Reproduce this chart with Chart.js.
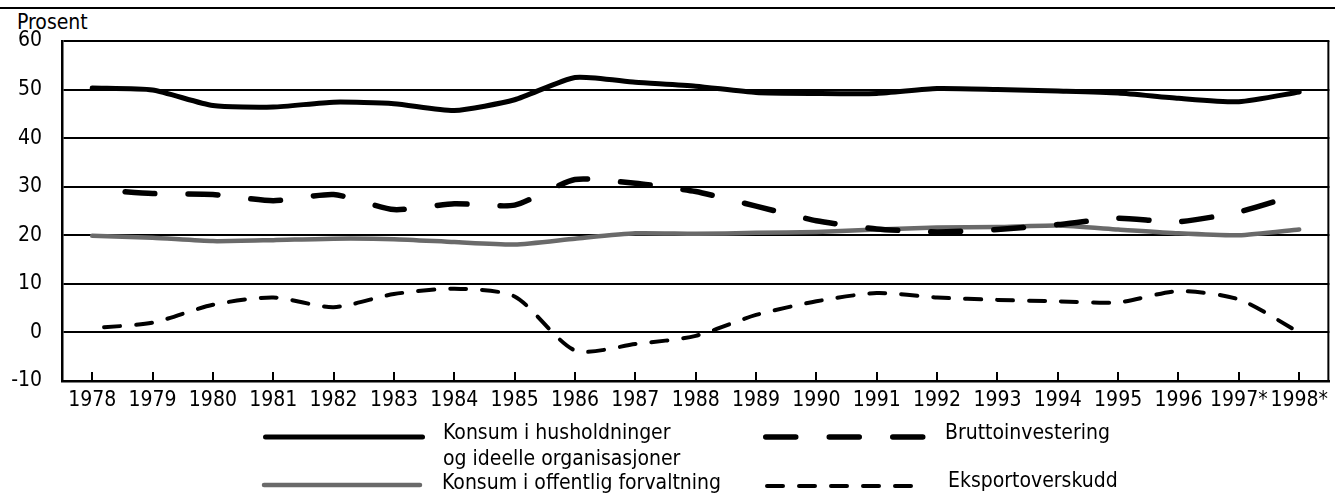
<!DOCTYPE html>
<html>
<head>
<meta charset="utf-8">
<script src="https://cdn.jsdelivr.net/npm/chart.js@4.4.1/dist/chart.umd.min.js"></script>
<style>
  html, body { margin: 0; padding: 0; background: #fff; }
  body { width: 1335px; height: 494px; position: relative; overflow: hidden;
         font-family: "DejaVu Sans Condensed", "DejaVu Sans", sans-serif; color: #000; }
  #wrap { position: absolute; left: 0; top: 0; width: 1335px; height: 420px; }
  .txt { position: absolute; font-size: 21px; line-height: 24px; white-space: nowrap; }
  #rule { position: absolute; left: 0; top: 7px; width: 1335px; height: 2px; background: #000; }
  svg { position: absolute; left: 0; top: 0; }
</style>
</head>
<body>
<div id="rule"></div>
<div class="txt" style="left:17px; top:10px;">Prosent</div>
<div id="wrap"><canvas id="c" width="1335" height="420"></canvas></div>

<svg width="1335" height="494">
  <line x1="265.5" y1="437" x2="422.5" y2="437" stroke="#000" stroke-width="5" stroke-linecap="round"/>
  <line x1="264" y1="485" x2="420" y2="485" stroke="#6a6a6a" stroke-width="4.5" stroke-linecap="round"/>
  <line x1="765.75" y1="437" x2="922.75" y2="437" stroke="#000" stroke-width="5.5" stroke-linecap="round" stroke-dasharray="30 33.5"/>
  <line x1="767" y1="486" x2="911" y2="486" stroke="#000" stroke-width="4" stroke-linecap="round" stroke-dasharray="16 16"/>
</svg>
<div class="txt" style="left:443px; top:420px;">Konsum i husholdninger</div>
<div class="txt" style="left:443px; top:446px;">og ideelle organisasjoner</div>
<div class="txt" style="left:442px; top:470px;">Konsum i offentlig forvaltning</div>
<div class="txt" style="left:945px; top:420px;">Bruttoinvestering</div>
<div class="txt" style="left:948px; top:468px;">Eksportoverskudd</div>

<script>
const years = ['1978','1979','1980','1981','1982','1983','1984','1985','1986','1987','1988',
               '1989','1990','1991','1992','1993','1994','1995','1996','1997*','1998*'];
const yTicks = [-10, 0, 10, 20, 30, 40, 50, 60];

const konsumHusholdninger = [50.3, 49.9, 46.7, 46.4, 47.4, 47.1, 45.7, 47.9, 52.5, 51.5, 50.7,
                             49.4, 49.2, 49.2, 50.2, 50.0, 49.7, 49.3, 48.2, 47.5, 49.5];
const bruttoinvestering   = [29.5, 28.6, 28.4, 27.1, 28.4, 25.3, 26.5, 26.2, 31.5, 30.7, 29.0,
                             26.0, 23.0, 21.3, 20.7, 21.2, 22.2, 23.5, 22.8, 24.8, 28.5];
const konsumOffentlig     = [19.9, 19.5, 18.8, 19.0, 19.3, 19.2, 18.6, 18.1, 19.3, 20.4, 20.3,
                             20.5, 20.7, 21.2, 21.6, 21.7, 22.0, 21.2, 20.4, 20.0, 21.2];
const eksportoverskudd    = [0.9, 2.0, 5.7, 7.2, 5.2, 7.9, 9.0, 7.4, -3.7, -2.4, -0.7,
                             3.6, 6.4, 8.1, 7.2, 6.7, 6.4, 6.2, 8.5, 6.8, 0.0];

const FONT = "'DejaVu Sans Condensed', 'DejaVu Sans', sans-serif";

const framePlugin = {
  id: 'frame',
  afterDraw(chart) {
    const {ctx, chartArea: a, scales: {x}} = chart;
    ctx.save();
    ctx.strokeStyle = '#000';
    ctx.lineWidth = 2;
    ctx.beginPath();
    ctx.moveTo(a.right - 1, a.top);
    ctx.lineTo(a.right - 1, a.bottom);
    ctx.stroke();
    for (let i = 0; i < years.length; i++) {
      const px = Math.round(x.getPixelForValue(i));
      ctx.beginPath();
      ctx.moveTo(px, a.bottom);
      ctx.lineTo(px, a.bottom - 9);
      ctx.stroke();
    }
    ctx.restore();
  }
};

new Chart(document.getElementById('c'), {
  type: 'line',
  data: {
    labels: years,
    datasets: [
      { label: 'Konsum i husholdninger og ideelle organisasjoner', data: konsumHusholdninger,
        borderColor: '#000', borderWidth: 5, order: 1, tension: 0.2,
        borderCapStyle: 'round', borderJoinStyle: 'round' },
      { label: 'Bruttoinvestering', data: bruttoinvestering,
        borderColor: '#000', borderWidth: 5.5, borderDash: [30, 33], borderDashOffset: 30,
        order: 0, tension: 0.2, borderCapStyle: 'round', borderJoinStyle: 'round' },
      { label: 'Konsum i offentlig forvaltning', data: konsumOffentlig,
        borderColor: '#6a6a6a', borderWidth: 4.5, order: 3, tension: 0.2,
        borderCapStyle: 'round', borderJoinStyle: 'round' },
      { label: 'Eksportoverskudd', data: eksportoverskudd,
        borderColor: '#000', borderWidth: 4, borderDash: [16, 16], borderDashOffset: 20,
        order: 2, tension: 0.25, borderCapStyle: 'round', borderJoinStyle: 'round' }
    ]
  },
  options: {
    responsive: false,
    animation: false,
    devicePixelRatio: 1,
    layout: { padding: { top: 41, right: 2, left: 0, bottom: 0 } },
    elements: { point: { radius: 0, hoverRadius: 0 } },
    plugins: { legend: { display: false }, tooltip: { enabled: false }, title: { display: false } },
    scales: {
      x: {
        offset: true,
        grid: { display: false, drawTicks: false },
        border: { display: true, color: '#000', width: 2.5 },
        ticks: { color: '#000', font: { family: FONT, size: 21 }, padding: 7,
                 maxRotation: 0, autoSkip: false },
        afterFit(s) { s.height = 39; }
      },
      y: {
        min: -10, max: 60,
        afterBuildTicks(s) { s.ticks = yTicks.map(v => ({ value: v })); },
        grid: { color: '#000', lineWidth: 2, drawTicks: false },
        border: { display: true, color: '#000', width: 2.5 },
        ticks: { color: '#000', font: { family: FONT, size: 21 }, padding: 20 },
        afterFit(s) { s.width = 62; }
      }
    }
  },
  plugins: [framePlugin]
});
</script>
</body>
</html>
